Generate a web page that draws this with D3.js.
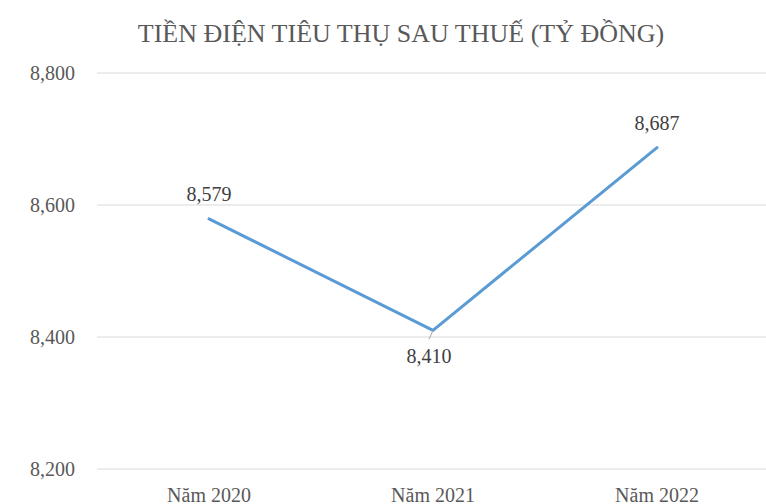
<!DOCTYPE html>
<html>
<head>
<meta charset="utf-8">
<script src="https://cdn.jsdelivr.net/npm/d3@7"></script>
<style>
  body { margin: 0; background: #fff; overflow: hidden; }
  svg { display: block; font-family: "Liberation Serif", "DejaVu Serif", serif; }
</style>
</head>
<body>
<svg id="chart" width="766" height="504"></svg>
<script>
var categories = ["Năm 2020", "Năm 2021", "Năm 2022"]
var values = [8579, 8410, 8687]
var yTicks = [8200, 8400, 8600, 8800]
var title = "TIỀN ĐIỆN TIÊU THỤ SAU THUẾ (TỶ ĐỒNG)"

var svg = d3.select("#chart")
var plotLeft = 97, plotRight = 769, plotTop = 73, plotBottom = 469

var x = d3.scaleBand().domain(categories).range([plotLeft, plotRight])
var y = d3.scaleLinear().domain([8200, 8800]).range([plotBottom, plotTop])
var fmt = d3.format(",")

svg.append("text")
  .attr("x", 401).attr("y", 42)
  .attr("text-anchor", "middle")
  .style("font-size", "26px").style("fill", "#595959")
  .text(title)

// grid
svg.append("g").selectAll("line").data(yTicks).join("line")
  .attr("x1", plotLeft).attr("x2", plotRight)
  .attr("y1", d => y(d)).attr("y2", d => y(d))
  .style("stroke", "#d9d9d9").style("stroke-width", 1)

var yAxis = svg.append("g").attr("transform", "translate(" + (plotLeft - 22) + ",0)")
  .call(d3.axisLeft(y).tickValues(yTicks).tickFormat(fmt).tickSize(0).tickPadding(0))
yAxis.select(".domain").remove()
yAxis.selectAll("text").style("font-size", "20px").style("fill", "#595959")
  .style("font-family", "Liberation Serif, DejaVu Serif, serif")

var xAxis = svg.append("g").attr("transform", "translate(0," + plotBottom + ")")
  .call(d3.axisBottom(x).tickSize(0).tickPadding(19))
xAxis.select(".domain").remove()
xAxis.selectAll("text").style("font-size", "20px").style("fill", "#595959")
  .style("font-family", "Liberation Serif, DejaVu Serif, serif")

var cx = d => x(d) + x.bandwidth() / 2

var line = d3.line().x((d, i) => cx(categories[i])).y(d => y(d))
svg.append("path").datum(values)
  .attr("d", line)
  .style("fill", "none").style("stroke", "#5b9bd5").style("stroke-width", 3)
  .style("stroke-linejoin", "round").style("stroke-linecap", "round")

// leader line for the low point label
svg.append("line")
  .attr("x1", cx(categories[1])).attr("y1", y(values[1]))
  .attr("x2", cx(categories[1]) - 4).attr("y2", y(values[1]) + 9)
  .style("stroke", "#a6a6a6").style("stroke-width", 1)

svg.append("g").selectAll("text").data(values).join("text")
  .attr("x", (d, i) => cx(categories[i]) - (i == 1 ? 4 : 0))
  .attr("y", (d, i) => i == 1 ? y(d) + 33 : y(d) - 18)
  .attr("text-anchor", "middle")
  .style("font-size", "20px").style("fill", "#404040")
  .text(d => fmt(d))
</script>
</body>
</html>
